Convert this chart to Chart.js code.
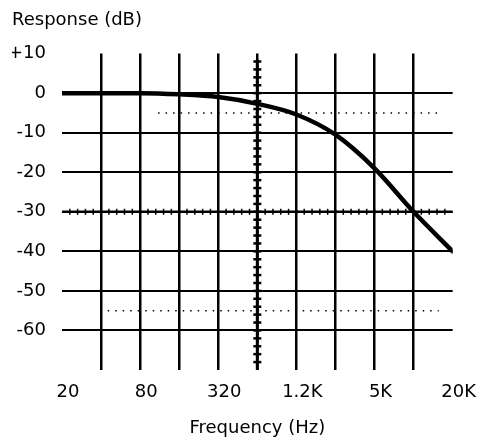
<!DOCTYPE html>
<html lang="en">
<head>
  <meta charset="UTF-8">
  <title>Frequency Response</title>
  <script src="https://cdn.jsdelivr.net/npm/chart.js"></script>
  <style>
    body { margin: 0; background: #fff; }
  </style>
</head>
<body>
  <canvas id="grafico" width="482" height="440"></canvas>

  <script>
    // octave points from 20 Hz to 20 kHz
    const freqs = [20, 40, 80, 160, 320, 640, 1280, 2560, 5120, 10240, 20480];
    const responseDb = [0, 0, 0, -0.3, -1, -2.7, -5.4, -10.5, -19, -30, -40];

    const freqTickValues = [20, 80, 320, 1280, 5120, 20480];
    const freqTickLabels = ["20", "80", "320", "1.2K", "5K", "20K"];
    const dbTickValues = [10, 0, -10, -20, -30, -40, -50, -60, -70];
    const dbTickLabels = ["+10", "0", "-10", "-20", "-30", "-40", "-50", "-60", ""];

    // reference lines: marked axis at 640 Hz and -30 dB, dotted levels
    const markedFreq = 640;
    const markedDb = -30;
    const dottedLevels = [-5, -55];
    const dottedStart = [110, 45];
    const dottedEnd = [16000, 16000];

    const FONT = "'DejaVu Sans', sans-serif";

    const markings = {
      id: "markings",
      beforeDatasetsDraw(chart) {
        const { ctx, chartArea, scales: { x, y } } = chart;
        ctx.save();
        ctx.strokeStyle = "#000";

        // dotted levels
        ctx.lineWidth = 1.5;
        ctx.setLineDash([1.5, 6]);
        dottedLevels.forEach((lvl, i) => {
          const py = y.getPixelForValue(lvl);
          ctx.beginPath();
          ctx.moveTo(x.getPixelForValue(dottedStart[i]), py);
          ctx.lineTo(x.getPixelForValue(dottedEnd[i]), py);
          ctx.stroke();
        });
        ctx.setLineDash([]);

        // vertical marked axis with crosses
        const px = x.getPixelForValue(markedFreq);
        ctx.lineWidth = 3;
        ctx.beginPath();
        ctx.moveTo(px, y.getPixelForValue(8.5));
        ctx.lineTo(px, chartArea.bottom);
        ctx.stroke();
        ctx.lineWidth = 2.5;
        for (let db = 8; db >= -68; db -= 2) {
          const py = y.getPixelForValue(db);
          ctx.beginPath();
          ctx.moveTo(px - 4, py);
          ctx.lineTo(px + 4, py);
          ctx.stroke();
        }

        // horizontal marked axis with crosses
        const py = y.getPixelForValue(markedDb);
        ctx.lineWidth = 2.5;
        ctx.beginPath();
        ctx.moveTo(chartArea.left, py);
        ctx.lineTo(chartArea.right, py);
        ctx.stroke();
        ctx.lineWidth = 1.5;
        for (let k = 1; k < 50; k++) {
          const qx = x.getPixelForValue(20 * Math.pow(2, k / 5));
          ctx.beginPath();
          ctx.moveTo(qx, py - 3);
          ctx.lineTo(qx, py + 3);
          ctx.stroke();
        }
        ctx.restore();
      }
    };

    const ctx = document.getElementById("grafico").getContext("2d");
    new Chart(ctx, {
      type: "line",
      data: {
        datasets: [{
          data: freqs.map((f, i) => ({ x: f, y: responseDb[i] })),
          borderColor: "#000",
          borderWidth: 4.5,
          pointRadius: 0,
          cubicInterpolationMode: "monotone",
          borderCapStyle: "round"
        }]
      },
      options: {
        responsive: false,
        animation: false,
        layout: { padding: { left: 12, right: 29, top: 0, bottom: 0 } },
        plugins: {
          legend: { display: false },
          tooltip: { enabled: false },
          title: {
            display: true,
            text: "Response (dB)",
            align: "start",
            color: "#000",
            font: { family: FONT, size: 18, weight: "normal" },
            padding: { top: 10, bottom: 22 }
          }
        },
        scales: {
          x: {
            type: "logarithmic",
            min: 20,
            max: 20480,
            afterBuildTicks: s => { s.ticks = freqs.map(v => ({ value: v })); },
            afterFit: s => { s.height = 70; },
            border: { display: false },
            grid: {
              drawTicks: false,
              lineWidth: 2.5,
              color: c => (c.index === 0 || c.index === freqs.length - 1) ? "rgba(0,0,0,0)" : "#000"
            },
            ticks: {
              autoSkip: false,
              maxRotation: 0,
              padding: 12,
              labelOffset: 6,
              color: "#000",
              font: { family: FONT, size: 18 },
              callback: v => {
                const i = freqTickValues.indexOf(v);
                return i >= 0 ? freqTickLabels[i] : "";
              }
            },
            title: {
              display: true,
              text: "Frequency (Hz)",
              color: "#000",
              font: { family: FONT, size: 18 },
              padding: { top: 8, bottom: 1 }
            }
          },
          y: {
            min: -70,
            max: 10,
            afterBuildTicks: s => { s.ticks = dbTickValues.map(v => ({ value: v })); },
            afterFit: s => { s.width = 50; },
            border: { display: false },
            grid: {
              drawTicks: false,
              lineWidth: 2,
              color: c => (c.tick.value === 10 || c.tick.value === -70) ? "rgba(0,0,0,0)" : "#000"
            },
            ticks: {
              padding: 16,
              color: "#000",
              font: { family: FONT, size: 18 },
              callback: v => dbTickLabels[dbTickValues.indexOf(v)]
            }
          }
        }
      },
      plugins: [markings]
    });
  </script>
</body>
</html>
